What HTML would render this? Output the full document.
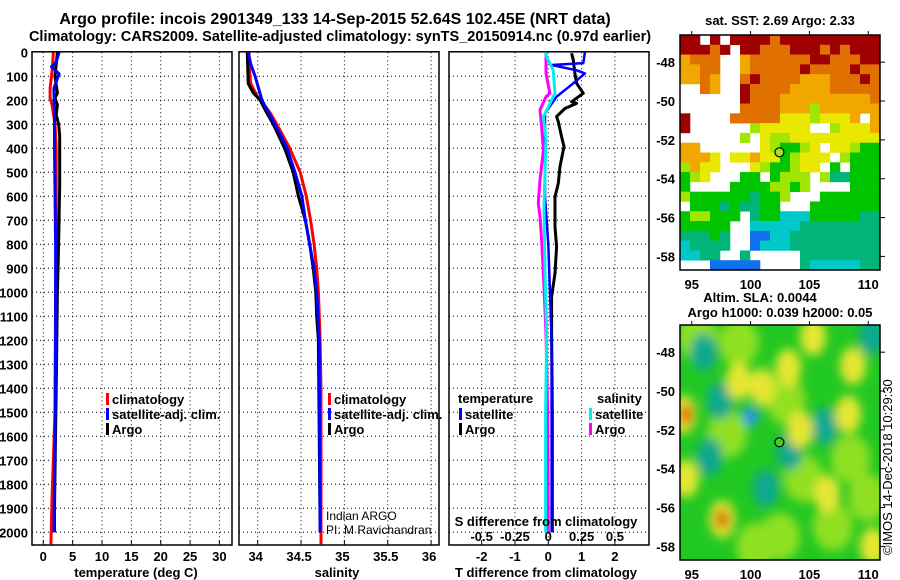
<!DOCTYPE html>
<html><head><meta charset="utf-8"><style>
body{margin:0;background:#fff;width:900px;height:580px;overflow:hidden}
svg{display:block;font-family:"Liberation Sans",sans-serif}
.b{font-weight:bold;font-size:13px}
</style></head><body>
<svg id="s" width="900" height="580" viewBox="0 0 900 580">
<defs>
<filter id="blur" x="-50%" y="-50%" width="200%" height="200%"><feGaussianBlur stdDeviation="5"/></filter>
<clipPath id="clipTop"><rect x="680" y="35" width="200" height="235"/></clipPath>
<clipPath id="clipBot"><rect x="680" y="325" width="200" height="235"/></clipPath>
</defs>
<text x="335" y="24" text-anchor="middle" font-size="16" font-weight="bold">Argo profile: incois 2901349_133 14-Sep-2015 52.64S 102.45E (NRT data)</text>
<text x="340" y="41" text-anchor="middle" font-size="14.5" font-weight="bold">Climatology: CARS2009. Satellite-adjusted climatology: synTS_20150914.nc (0.97d earlier)</text>
<g id="g"></g>
</svg>
<script>
// ---- data ----
const depthTicks=[0,100,200,300,400,500,600,700,800,900,1000,1100,1200,1300,1400,1500,1600,1700,1800,1900,2000];
const tTicks=[0,5,10,15,20,25,30];
const sTicks=[34,34.5,35,35.5,36];
const sTickLabels=["34","34.5","35","35.5","36"];
const dTTicks=[-2,-1,0,1,2];
const dSTicks=[-0.5,-0.25,0,0.25,0.5];
const dSTickLabels=["-0.5","-0.25","0","0.25","0.5"];

const tClimDepth=[0,50,100,150,190,220,300,400,600,1000,1500,1850,2050];
const tClim=[1.7,1.6,1.4,1.15,1.15,1.5,2.0,2.2,2.2,2.1,2.0,1.5,1.3];
const tSatDepth=[0,40,60,90,150,270,400,800,1200,1600,2000];
const tSat=[2.7,2.2,1.4,2.7,1.8,1.9,1.9,2.1,2.1,2.0,1.8];
const tArgoDepth=[0,50,100,170,190,220,260,300,350,550,800,1000,1400,1900,2000];
const tArgo=[2.4,2.2,2.0,2.4,2.0,2.4,2.2,2.6,2.8,2.8,2.6,2.4,2.2,1.9,1.9];

const sClimDepth=[0,100,130,180,250,300,400,500,600,700,800,900,1000,1100,1200,1400,2050];
const sClim=[33.90,33.91,33.92,33.99,34.14,34.22,34.37,34.49,34.56,34.61,34.65,34.68,34.70,34.71,34.72,34.73,34.73];
const sSatDepth=[0,50,100,200,300,400,500,600,700,800,900,1000,1200,2000];
const sSat=[33.89,33.92,33.97,34.05,34.20,34.34,34.43,34.51,34.55,34.60,34.65,34.68,34.71,34.72];
const sArgoDepth=[0,130,170,200,250,300,400,500,600,700,800,900,1000,1100,1200,2000];
const sArgo=[33.88,33.89,33.95,34.03,34.10,34.18,34.31,34.41,34.47,34.55,34.60,34.64,34.67,34.68,34.70,34.72];

const dTSatDepth=[0,45,53,75,88,129,185,254,400,600,800,1000,1200,2000];
const dTSat=[1.1,1.05,0.1,0.85,1.1,0.75,0.25,-0.1,-0.1,-0.1,0,0.05,0.1,0.1];
const dTArgoDepth=[4,32,88,129,171,206,213,234,268,289,352,393,476,546,602,727,810,921,1018,1171,1500,2000];
const dTArgo=[0.70,0.75,0.8,0.85,1.05,0.7,0.85,0.5,0.25,0.3,0.4,0.47,0.35,0.3,0.2,0.2,0.25,0.2,0.1,0.1,0.12,0.12];
const dSSatDepth=[4,74,171,213,268,366,643,921,1171,1500,2000];
const dSSat=[-0.025,0.037,0.05,0.012,-0.037,-0.017,-0.032,-0.025,-0.012,-0.02,-0.02];
const dSArgoDepth=[4,88,171,185,240,310,407,532,629,685,782,921,1171,1500,2000];
const dSArgo=[-0.017,-0.017,0.012,-0.017,-0.062,-0.05,-0.037,-0.062,-0.075,-0.062,-0.05,-0.037,-0.017,-0.005,0.0];

const latTicks=[-48,-50,-52,-54,-56,-58];
const lonTicks=[95,100,105,110];
const sstRows=[
"RRWRWRRRRORRRRRRRRRR","RRRORWRROOORRRORORRR","AOOOWWAOOOOOORROOORR","AAOOWWAOOOOOROOOOROO",
"AAOAWWOROOOOAAAOOORO","WWOAWWROOOOAAAAOOOOO","WWWWWWROOOAAAAAAAAAO","WWWWWWOOOOAAALAAAAAA",
"RWWWWOOOOOYYYLYYYAWA","RWWWWWWLYYYYYWWLYYYA","WWWWWWLWYLLYYYYYYYYY","AAWWWWWWYLGGLYWYYLGG",
"AAAYWYYAYYGLYYYWLGGG","LAYYWWWYLGGLYYWGWGGG","GLYWWWGGWGLLLWLTTGGG","GWWWWGGGGLLGLWWWWGGG",
"LGGGGGGTGGLWWWGGGGGG","WGGGTGTTGGWWWGGGGGGG","GLLGGGWTGGCCCGGGGGTT","GGGGGWWCCCCCTTTTTTTT",
"TTTGTWWBBCCTTTTTTTTT","CTTTTWWBCCCTTTTTTTTT","CCTTWWTWWWWWTTTTTTTT","WWWBBBBBWWWWTCCCCCTT"];
const slaLon=[94.3,94.5,100,97.4,96.5,101,104.2,106.3,108.7,108.3,110.3,105.3,97.6,97.6,94.5,106.5,99.0,103.2,103.3,110.4,101.3,96,102.5,107,95.5,99,103,108.5,98,104.5,100.5,110];
const slaLat=[-51.2,-51.2,-51.3,-50.5,-53.4,-49.8,-52,-51.8,-48.7,-51.2,-47.2,-47.2,-56.6,-56.6,-54.5,-55.3,-49.5,-48.8,-53.1,-58,-55,-48,-57.5,-57,-47.2,-47.5,-50.5,-53.5,-52.2,-54.5,-58,-55.5];
const slaKind=["Y","O","C","T","T","Y","Y","T","Y","Y","T","Y","Y","O","Y","Y","Y","Y","T","Y","T","T","L","L","L","L","L","L","L","L","L","L"];

// ---- helpers ----
const NS="http://www.w3.org/2000/svg";
const G=document.getElementById('g');
function mk(tag,attrs){const e=document.createElementNS(NS,tag);for(const k in attrs)e.setAttribute(k,attrs[k]);G.appendChild(e);return e;}
const Y0=52.3, YK=0.24;
function yD(d){return Y0+d*YK;}
const panels=[
 {x0:32,x1:232,f:v=>43.3+v*5.87},
 {x0:239,x1:439,f:v=>257.7+(v-34)*86.7},
 {x0:449,x1:649,f:v=>548.3+v*33.3}
];
function fS(v){return 548.3+v*133.3;}
const PB=545;

panels.forEach((p,i)=>{
  depthTicks.forEach(d=>{ if(d>0){const l=mk('line',{x1:p.x0,x2:p.x1,y1:yD(d),y2:yD(d),stroke:'#000','stroke-dasharray':'1,3'});
  
  }});
  const tv=i==0?tTicks:i==1?sTicks:dTTicks;
  tv.forEach(v=>{const x=p.f(v);const l=mk('line',{x1:x,x2:x,y1:Y0,y2:PB,stroke:'#000','stroke-dasharray':'1,3'});
  
  
  const t=mk('line',{x1:x,x2:x,y1:PB,y2:PB-5,stroke:'#000'});
  
  });
});
depthTicks.forEach(d=>{const t=mk('text',{x:28,y:yD(d)+5,'text-anchor':'end',class:'b'});t.textContent=d;
 
 });
tTicks.forEach(v=>{const t=mk('text',{x:panels[0].f(v),y:561,'text-anchor':'middle',class:'b'});t.textContent=v;
 
 });
sTicks.forEach((v,i)=>{const t=mk('text',{x:panels[1].f(v)-2,y:561,'text-anchor':'middle',class:'b'});t.textContent=sTickLabels[i];
 
 });
dTTicks.forEach(v=>{const t=mk('text',{x:panels[2].f(v),y:561,'text-anchor':'middle',class:'b'});t.textContent=v;
 
 });
[["temperature (deg C)",136,'temperature-axis-title'],["salinity",337,'salinity-axis-title'],["T difference from climatology",546,'t-diff-axis-title']].forEach(a=>{
 const t=mk('text',{x:a[1],y:577,'text-anchor':'middle',class:'b'});t.textContent=a[0];
 
 });

function line(xs,ds,fx,col,w,name){
 const pts=xs.map((v,i)=>fx(v).toFixed(1)+','+yD(ds[i]).toFixed(1)).join(' ');
 const l=mk('polyline',{points:pts,fill:'none',stroke:col,'stroke-width':w,'stroke-linejoin':'round'});
 
 }
line(tClim,tClimDepth,panels[0].f,'#f00',3,'temperature-climatology-line');
line(tArgo,tArgoDepth,panels[0].f,'#000',3,'temperature-argo-line');
line(tSat,tSatDepth,panels[0].f,'#00f',3,'temperature-satellite-line');
line(sClim,sClimDepth,panels[1].f,'#f00',3,'salinity-climatology-line');
line(sArgo,sArgoDepth,panels[1].f,'#000',3,'salinity-argo-line');
line(sSat,sSatDepth,panels[1].f,'#00f',3,'salinity-satellite-line');
line(dTArgo,dTArgoDepth,panels[2].f,'#000',3,'t-diff-argo-line');
line(dTSat,dTSatDepth,panels[2].f,'#00f',2.5,'t-diff-satellite-line');
line(dSArgo,dSArgoDepth,fS,'#f0f',3,'s-diff-argo-line');
line(dSSat,dSSatDepth,fS,'#0ee',3,'s-diff-satellite-line');

function leg(x,y,col,txt,name){
 const r=mk('rect',{x:x,y:y-10,width:3,height:12,fill:col});
 
 
 const t=mk('text',{x:x+6,y:y+1,class:'b'});t.textContent=txt;
 
 }
leg(106,403,'#f00','climatology','legend-climatology-t');
leg(106,418,'#00f','satellite-adj. clim.','legend-satellite-t');
leg(106,433,'#000','Argo','legend-argo-t');
leg(328,403,'#f00','climatology','legend-climatology-s');
leg(328,418,'#00f','satellite-adj. clim.','legend-satellite-s');
leg(328,433,'#000','Argo','legend-argo-s');
{const t=mk('text',{x:458,y:403,class:'b'});t.textContent='temperature';
 
 }
{const t=mk('text',{x:597,y:403,class:'b'});t.textContent='salinity';
 
 }
leg(459,418,'#00f','satellite','legend-t-satellite');
leg(459,433,'#000','Argo','legend-t-argo');
leg(589,418,'#0ee','satellite','legend-s-satellite');
leg(589,433,'#f0f','Argo','legend-s-argo');
{const t=mk('text',{x:546,y:526,'text-anchor':'middle',class:'b'});t.textContent="S difference from climatology";
 
 }
dSTicks.forEach((v,i)=>{const t=mk('text',{x:fS(v),y:541,'text-anchor':'middle',class:'b'});t.textContent=dSTickLabels[i];
 
 });
{const t=mk('text',{x:326,y:520,'font-size':12});t.textContent='Indian ARGO';
 
 
 const t2=mk('text',{x:326,y:534,'font-size':12});t2.textContent='PI: M Ravichandran';
 
 }
panels.forEach((p,i)=>{
  const r=mk('rect',{x:p.x0,y:Y0-0.5,width:p.x1-p.x0,height:PB-Y0+0.5,fill:'none',stroke:'#000','stroke-width':1.5});
  
  
});

// maps
const MX0=680,MW=200,MH=235,LON0=94,LON1=111,LAT0=-46.6,LAT1=-58.7;
function mx(lon){return MX0+(lon-LON0)/(LON1-LON0)*MW;}
function my(lat,top){return top+(lat-LAT0)/(LAT1-LAT0)*MH;}
const sstCol={R:'#a00000',O:'#e07000',A:'#f0a800',Y:'#e8e800',L:'#a0e600',G:'#00c400',T:'#00b47a',C:'#00c8c8',B:'#1070f0'};
sstRows.forEach((row,r)=>{for(let c=0;c<row.length;c++){const k=row[c];if(k==='W')continue;
 const e=mk('rect',{x:MX0+c*10,y:35+r*MH/24,width:10.3,height:MH/24+0.3,fill:sstCol[k]});
 
 }});
{const bg=mk('rect',{x:MX0,y:325,width:MW,height:MH,fill:'#22c822'});
 
 }
const slaG=mk('g',{'clip-path':'url(#clipBot)'});


const slaCol={Y:'#e6e630',O:'#d86a00',C:'#2090ff',T:'#10a890',L:'#90e020'};
const blurG=document.createElementNS(NS,'g');blurG.setAttribute('filter','url(#blur)');slaG.appendChild(blurG);
const order=["L","T","Y","C","O"];
order.forEach(kk=>slaKind.forEach((k,i)=>{if(k!==kk)return;const e=document.createElementNS(NS,'ellipse');
 e.setAttribute('cx',mx(slaLon[i]));e.setAttribute('cy',my(slaLat[i],325));
 const small=(k==='O'||k==='C');
 e.setAttribute('rx',small?7:(k==='L'?20:13));e.setAttribute('ry',small?10:(k==='L'?24:19));e.setAttribute('fill',slaCol[k]);
 
 
 blurG.appendChild(e);}));
[35,325].forEach((top,mi)=>{
 const r=mk('rect',{x:MX0,y:top,width:MW,height:MH,fill:'none',stroke:'#000','stroke-width':1.5});
 
 
 latTicks.forEach(l=>{const y=my(l,top);
  const t=mk('text',{x:675,y:y+5,'text-anchor':'end',class:'b'});t.textContent=l;
  
  
  const tk=mk('line',{x1:MX0+MW,x2:MX0+MW+5,y1:y,y2:y,stroke:'#000'});
  
  });
 lonTicks.forEach(l=>{const x=mx(l);
  const t=mk('text',{x:x,y:top+MH+19,'text-anchor':'middle',class:'b'});t.textContent=l;
  
  
  const tk=mk('line',{x1:x,x2:x,y1:top-4,y2:top,stroke:'#000'});
  
  });
 const c=mk('circle',{cx:mx(102.45),cy:my(-52.64,top),r:4.5,fill:mi?'#40d020':'#a8e020',stroke:'#000','stroke-width':1.2});
 
 
});
{const t=mk('text',{x:780,y:25,'text-anchor':'middle',class:'b'});t.textContent='sat. SST: 2.69 Argo: 2.33';
 
 
 const t2=mk('text',{x:760,y:302,'text-anchor':'middle',class:'b'});t2.textContent='Altim. SLA: 0.0044';
 
 
 const t3=mk('text',{x:780,y:317,'text-anchor':'middle',class:'b'});t3.textContent='Argo h1000: 0.039 h2000: 0.05';
 
 
 const t4=mk('text',{x:0,y:0,'font-size':13,transform:'translate(892,555) rotate(-90)'});t4.textContent='©IMOS 14-Dec-2018 10:29:30';
 
 }
</script>
</body></html>
